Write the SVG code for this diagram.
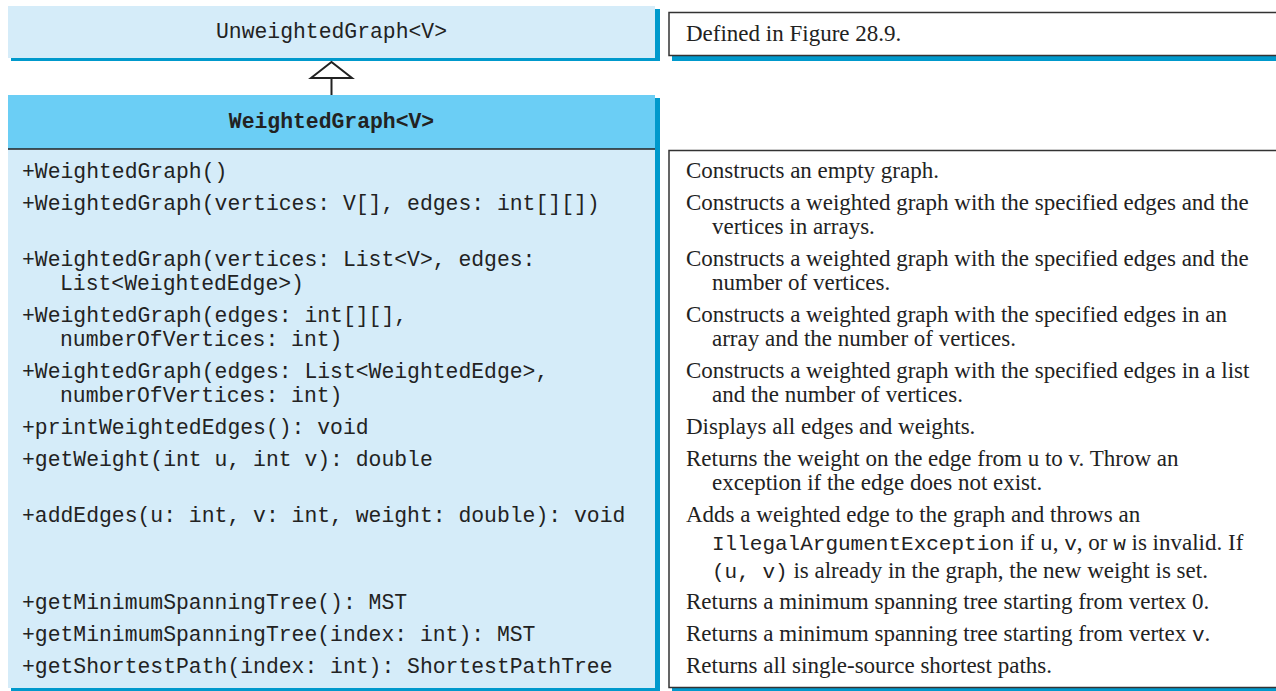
<svg xmlns="http://www.w3.org/2000/svg" width="1276" height="691" viewBox="0 0 1276 691">
<style>
.light{fill:#d5ecf9}
.head{fill:#6bcef5}
.shadow{fill:#0099cc}
.note{fill:#ffffff;stroke:#333333;stroke-width:1.5}
.mono{font-family:"Liberation Mono","DejaVu Sans Mono",monospace;font-size:21.4px;fill:#222222}
.serif{font-family:"Liberation Serif","DejaVu Serif",serif;font-size:23px;fill:#222222}
.smono{font-family:"Liberation Mono","DejaVu Sans Mono",monospace;font-size:21px}
.title{text-anchor:middle}
.bold{font-weight:bold}
.conn{stroke:#222222;stroke-width:2;fill:none}
.tri{fill:#ffffff;stroke:#222222;stroke-width:2;stroke-linejoin:miter}
</style>
<rect width="1276" height="691" fill="#ffffff"/>

<g id="unweighted-graph">
  <rect class="shadow" x="11" y="9" width="649" height="52"/>
  <rect class="light" x="8" y="6" width="647" height="52"/>
  <text class="mono title" x="331.5" y="38">UnweightedGraph&lt;V&gt;</text>
</g>

<g id="note-defined">
  <rect class="shadow" x="672" y="16" width="610" height="45"/>
  <rect class="note" x="669" y="12.5" width="620" height="43"/>
  <text class="serif" x="686" y="41">Defined in Figure 28.9.</text>
</g>

<g id="connectors">
  <line class="conn" x1="331.5" y1="78" x2="331.5" y2="95"/>
  <polygon class="tri" points="311,78 331.5,62 352,78"/>
</g>

<g id="weighted-graph">
  <rect class="shadow" x="11" y="98" width="649" height="593"/>
  <rect class="head" x="8" y="95" width="647" height="54"/>
  <rect class="light" x="8" y="149" width="647" height="539"/>
  <line x1="8" y1="149" x2="655" y2="149" stroke="#222222" stroke-width="1.5"/>
  <text class="mono title bold" x="331.5" y="128">WeightedGraph&lt;V&gt;</text>
  <text class="mono" x="22" y="178">+WeightedGraph()</text>
  <text class="mono" x="22" y="210">+WeightedGraph(vertices: V[], edges: int[][])</text>
  <text class="mono" x="22" y="266">+WeightedGraph(vertices: List&lt;V&gt;, edges:</text>
  <text class="mono" x="60" y="290">List&lt;WeightedEdge&gt;)</text>
  <text class="mono" x="22" y="322">+WeightedGraph(edges: int[][],</text>
  <text class="mono" x="60" y="346">numberOfVertices: int)</text>
  <text class="mono" x="22" y="378">+WeightedGraph(edges: List&lt;WeightedEdge&gt;,</text>
  <text class="mono" x="60" y="402">numberOfVertices: int)</text>
  <text class="mono" x="22" y="434">+printWeightedEdges(): void</text>
  <text class="mono" x="22" y="466">+getWeight(int u, int v): double</text>
  <text class="mono" x="22" y="522">+addEdges(u: int, v: int, weight: double): void</text>
  <text class="mono" x="22" y="609">+getMinimumSpanningTree(): MST</text>
  <text class="mono" x="22" y="641">+getMinimumSpanningTree(index: int): MST</text>
  <text class="mono" x="22" y="673">+getShortestPath(index: int): ShortestPathTree</text>
</g>

<g id="descriptions">
  <rect class="shadow" x="672" y="154" width="610" height="537"/>
  <rect class="note" x="669" y="150.5" width="620" height="537"/>
  <text class="serif" x="686" y="178">Constructs an empty graph.</text>
  <text class="serif" x="686" y="210">Constructs a weighted graph with the specified edges and the</text>
  <text class="serif" x="712" y="234">vertices in arrays.</text>
  <text class="serif" x="686" y="266">Constructs a weighted graph with the specified edges and the</text>
  <text class="serif" x="712" y="290">number of vertices.</text>
  <text class="serif" x="686" y="322">Constructs a weighted graph with the specified edges in an</text>
  <text class="serif" x="712" y="346">array and the number of vertices.</text>
  <text class="serif" x="686" y="378">Constructs a weighted graph with the specified edges in a list</text>
  <text class="serif" x="712" y="402">and the number of vertices.</text>
  <text class="serif" x="686" y="434">Displays all edges and weights.</text>
  <text class="serif" x="686" y="466">Returns the weight on the edge from u to v. Throw an</text>
  <text class="serif" x="712" y="490">exception if the edge does not exist.</text>
  <text class="serif" x="686" y="522">Adds a weighted edge to the graph and throws an</text>
  <text class="serif" x="712" y="550"><tspan class="smono">IllegalArgumentException</tspan> if <tspan class="smono">u</tspan>, <tspan class="smono">v</tspan>, or <tspan class="smono">w</tspan> is invalid. If</text>
  <text class="serif" x="712" y="578"><tspan class="smono">(u, v)</tspan> is already in the graph, the new weight is set.</text>
  <text class="serif" x="686" y="609">Returns a minimum spanning tree starting from vertex 0.</text>
  <text class="serif" x="686" y="641">Returns a minimum spanning tree starting from vertex <tspan class="smono">v</tspan>.</text>
  <text class="serif" x="686" y="673">Returns all single-source shortest paths.</text>
</g>
</svg>
